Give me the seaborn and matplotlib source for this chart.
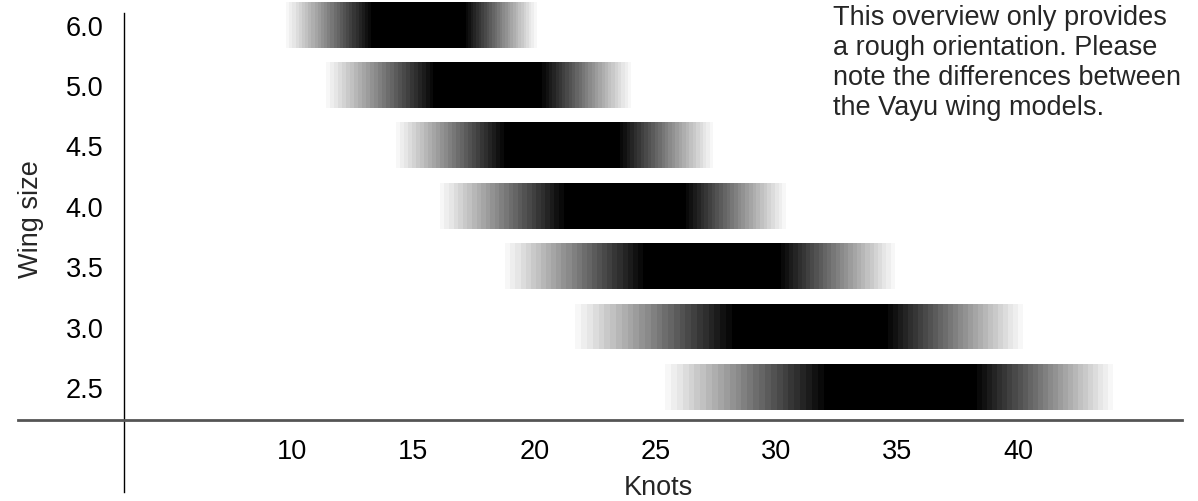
import numpy as np
import matplotlib
matplotlib.use("Agg")
import matplotlib.pyplot as plt
import seaborn as sns

# wing sizes (bottom to top) and their wind ranges in knots
wing_sizes = ["2.5", "3.0", "3.5", "4.0", "4.5", "5.0", "6.0"]
wind_min = [25.4, 21.7, 18.8, 16.1, 14.3, 11.4, 9.75]
power_min = [32.2, 28.4, 24.7, 21.4, 18.9, 16.0, 13.4]
power_max = [38.1, 34.4, 30.0, 26.1, 23.4, 20.2, 17.05]
wind_max = [43.9, 40.2, 34.9, 30.4, 27.4, 24.0, 20.1]
knot_ticks = [10, 15, 20, 25, 30, 35, 40]

note = ("This overview only provides\n"
        "a rough orientation. Please\n"
        "note the differences between\n"
        "the Vayu wing models.")

sns.set_style("white")
plt.rcParams['font.family'] = ['Liberation Sans', 'DejaVu Sans']

n_steps = 28
ramp = sns.blend_palette(["#f7f7f7", "#000000"], n_steps)

fig = plt.figure(figsize=(11.98, 5.02), dpi=100)
ax = fig.add_axes([18 / 1198, 1 - 493 / 502, 1164 / 1198, 493 / 502])

for i, size in enumerate(wing_sizes):
    # rising edge, full power plateau, falling edge
    up = np.linspace(wind_min[i], power_min[i], n_steps + 1)
    down = np.linspace(power_max[i], wind_max[i], n_steps + 1)
    lefts = list(up[:-1]) + [power_min[i]] + list(down[:-1])
    widths = list(np.diff(up)) + [power_max[i] - power_min[i]] + list(np.diff(down))
    colors = list(ramp) + ["#000000"] + list(ramp[::-1])
    ax.barh([i] * len(lefts), widths, left=lefts, height=0.76,
            color=colors, linewidth=0, antialiased=False)

ax.set_xlim(-1.33, 46.76)
ax.set_ylim(-1.74, 6.424)
ax.set_yticks(range(len(wing_sizes)))
ax.set_yticklabels(wing_sizes)
ax.set_xticks(knot_ticks)

for s in ["top", "right"]:
    ax.spines[s].set_visible(False)
ax.spines["left"].set_position(("data", 3.06))
ax.spines["left"].set_bounds(-1.74, 6.19)
ax.spines["left"].set_color("black")
ax.spines["left"].set_linewidth(1.0)
ax.spines["bottom"].set_position(("data", -0.546))
ax.spines["bottom"].set_color("#555555")
ax.spines["bottom"].set_linewidth(2.0)

ax.tick_params(axis="x", length=0, pad=13, labelsize=19.5, colors="black")
ax.tick_params(axis="y", length=0, pad=15, labelsize=19.5, colors="black")

fig.text(31 / 1198, 1 - 219 / 502, "Wing size", rotation=90,
         ha="center", va="center", fontsize=19.5)
fig.text(658 / 1198, 1 - 495 / 502, "Knots", ha="center", va="baseline",
         fontsize=19.5)
fig.text(833 / 1198, 1 - 5 / 502, note, ha="left", va="top", fontsize=19.5,
         linespacing=1.2)

fig.savefig("out.png", dpi=100)
